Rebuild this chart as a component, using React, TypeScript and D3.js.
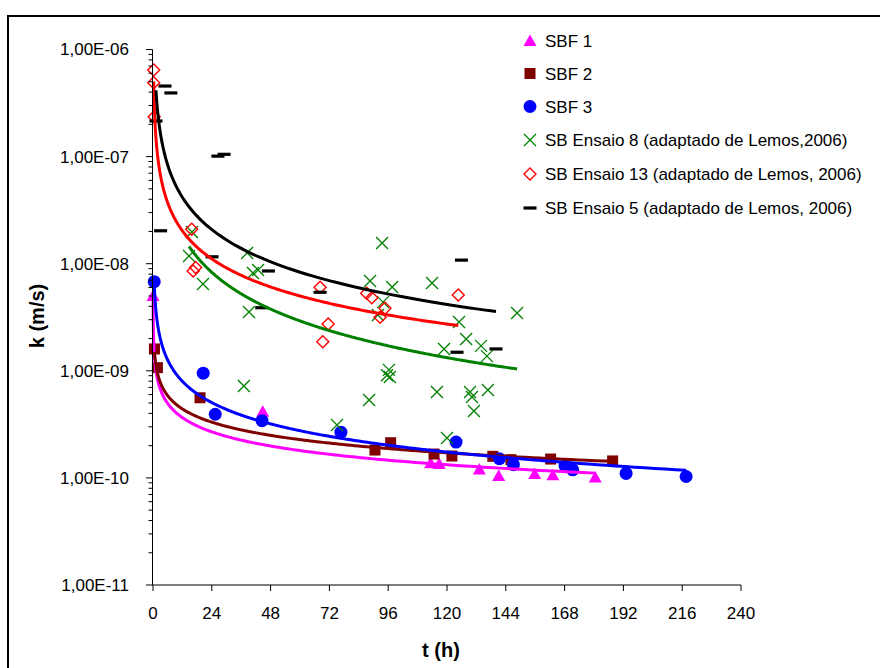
import React from "react";
import * as d3 from "d3";

// Hydraulic conductivity k (m/s) versus time t (h)
const sbf1T = [0.03, 44.8, 113.3, 116.8, 133.2, 141.1, 155.8, 163.2, 180.5];
const sbf1K = [5.0e-9, 4.15e-10, 1.37e-10, 1.35e-10, 1.2e-10, 1.04e-10, 1.09e-10, 1.06e-10, 1.01e-10];

const sbf2T = [0.6, 1.8, 19.2, 90.6, 97.0, 114.7, 122.0, 138.7, 146.1, 162.3, 187.6];
const sbf2K = [1.6e-9, 1.07e-9, 5.6e-10, 1.82e-10, 2.13e-10, 1.67e-10, 1.6e-10, 1.59e-10, 1.48e-10, 1.5e-10, 1.44e-10];

const sbf3T = [0.5, 20.5, 25.4, 44.5, 76.7, 123.7, 141.4, 147.1, 168.2, 171.3, 193.1, 217.6];
const sbf3K = [6.8e-9, 9.5e-10, 3.93e-10, 3.42e-10, 2.67e-10, 2.16e-10, 1.51e-10, 1.33e-10, 1.29e-10, 1.19e-10, 1.1e-10, 1.03e-10];

const ens8T = [15.9, 14.7, 20.4, 38.4, 40.8, 42.9, 39.2, 37.1, 75.1, 88.2, 88.6, 93.5, 97.6, 93.9, 91.8, 96.3, 95.5, 96.7, 113.9, 115.9, 118.8, 120.0, 124.9, 127.8, 129.4, 130.2, 131.0, 133.9, 136.3, 136.7, 148.6];
const ens8K = [1.98e-8, 1.18e-8, 6.46e-9, 1.26e-8, 8.2e-9, 8.73e-9, 3.54e-9, 7.2e-10, 3.12e-10, 5.33e-10, 6.9e-9, 1.56e-8, 6.05e-9, 4.38e-9, 3.32e-9, 1.02e-9, 9.1e-10, 8.75e-10, 6.6e-9, 6.34e-10, 1.6e-9, 2.36e-10, 2.86e-9, 1.98e-9, 6.34e-10, 5.69e-10, 4.21e-10, 1.71e-9, 1.37e-9, 6.62e-10, 3.47e-9];

const ens13T = [0.3, 0.3, 0.5, 15.8, 17.4, 16.4, 68.2, 71.5, 69.3, 87.2, 89.3, 94.7, 92.7, 124.6];
const ens13K = [6.44e-7, 4.9e-7, 2.36e-7, 2.1e-8, 9.2e-9, 8.55e-9, 6.02e-9, 2.73e-9, 1.87e-9, 5.3e-9, 4.82e-9, 3.84e-9, 3.16e-9, 5.1e-9];

const ens5T = [4.9, 7.3, 1.2, 26.5, 29.0, 3.1, 24.1, 47.1, 44.4, 68.2, 125.9, 124.1, 140.0];
const ens5K = [4.56e-7, 3.93e-7, 2.15e-7, 1.01e-7, 1.05e-7, 2.03e-8, 1.16e-8, 8.55e-9, 3.88e-9, 5.41e-9, 1.08e-8, 1.49e-9, 1.6e-9];

// Power-law trend lines k = a * t^b, one per series (same order as the legend)
const trendA = [1.09e-9, 1.22e-9, 4.11e-9, 3.11e-7, 1.76e-7, 5.0e-7];
const trendB = [-0.44, -0.41, -0.66, -1.14, -0.87, -1.0];

const seriesNames = [
  "SBF 1",
  "SBF 2",
  "SBF 3",
  "SB Ensaio 8 (adaptado de Lemos,2006)",
  "SB Ensaio 13 (adaptado de Lemos, 2006)",
  "SB Ensaio 5 (adaptado de Lemos, 2006)",
];
const seriesColors = ["#FF00FF", "#800000", "#0000FF", "#008000", "#FF0000", "#000000"];
const seriesShapes = ["triangle", "square", "circle", "cross", "diamond", "dash"];

const xTicks = [0, 24, 48, 72, 96, 120, 144, 168, 192, 216, 240];
const yTicks = [1e-11, 1e-10, 1e-9, 1e-8, 1e-7, 1e-6];
const yTickLabels = ["1,00E-11", "1,00E-10", "1,00E-09", "1,00E-08", "1,00E-07", "1,00E-06"];

const FONT = "'Liberation Sans', Arial, sans-serif";

function Marker({ shape, color, x, y }: { shape: string; color: string; x: number; y: number }) {
  switch (shape) {
    case "triangle":
      return <path d={`M${x},${y - 6.5}L${x + 6.5},${y + 5}L${x - 6.5},${y + 5}Z`} fill={color} />;
    case "square":
      return <rect x={x - 5.5} y={y - 5.5} width={11} height={11} fill={color} />;
    case "circle":
      return <circle cx={x} cy={y} r={6.5} fill={color} />;
    case "cross":
      return (
        <path
          d={`M${x - 6},${y - 6}L${x + 6},${y + 6}M${x - 6},${y + 6}L${x + 6},${y - 6}`}
          stroke={color}
          strokeWidth={1.3}
          fill="none"
        />
      );
    case "diamond":
      return (
        <path
          d={`M${x},${y - 6}L${x + 6},${y}L${x},${y + 6}L${x - 6},${y}Z`}
          stroke={color}
          strokeWidth={1.4}
          fill="none"
        />
      );
    case "dash":
      return <rect x={x - 6.5} y={y - 1.6} width={13} height={3.2} fill={color} />;
    default:
      return null;
  }
}

export default function App() {
  const width = 880;
  const height = 668;
  const x = d3.scaleLinear().domain([0, 240]).range([153, 741]);
  const y = d3.scaleLog().domain([1e-11, 1e-6]).range([585, 49.5]);

  const seriesT = [sbf1T, sbf2T, sbf3T, ens8T, ens13T, ens5T];
  const seriesK = [sbf1K, sbf2K, sbf3K, ens8K, ens13K, ens5K];

  const line = d3
    .line<[number, number]>()
    .x((d) => x(d[0]))
    .y((d) => y(d[1]));

  const trendPaths = seriesT.map((ts, i) => {
    const [t0, t1] = d3.extent(ts) as [number, number];
    const n = 300;
    const pts: [number, number][] = d3.range(n + 1).map((j) => {
      const t = Math.exp(Math.log(t0) + ((Math.log(t1) - Math.log(t0)) * j) / n);
      return [t, trendA[i] * Math.pow(t, trendB[i])];
    });
    return line(pts) as string;
  });

  // minor ticks on the log axis (2..9 of each decade)
  const minorTicks: number[] = [];
  for (let e = -11; e < -6; e++) {
    for (let m = 2; m <= 9; m++) minorTicks.push(m * Math.pow(10, e));
  }

  const legendX = 530;
  const legendY = [41, 73.5, 106.5, 140, 174, 208];

  return (
    <svg
      width={width}
      height={height}
      style={{ position: "absolute", left: 0, top: 0, background: "#fff" }}
      fontFamily={FONT}
    >
      <rect x={0} y={0} width={width} height={height} fill="#fff" />
      {/* outer chart frame */}
      <rect x={8} y={16} width={1000} height={1000} fill="none" stroke="#000" strokeWidth={2} />

      {/* markers */}
      {seriesT.map((ts, i) => (
        <g key={`s${i}`}>
          {ts.map((t, j) => (
            <Marker key={j} shape={seriesShapes[i]} color={seriesColors[i]} x={x(t)} y={y(seriesK[i][j])} />
          ))}
        </g>
      ))}

      {/* trend lines */}
      {trendPaths.map((d, i) => (
        <path key={`t${i}`} d={d} fill="none" stroke={seriesColors[i]} strokeWidth={3} strokeLinejoin="round" />
      ))}

      {/* y axis */}
      <line x1={152.5} x2={152.5} y1={49.5} y2={585} stroke="#000" strokeWidth={1} />
      {yTicks.map((v) => (
        <line key={`yt${v}`} x1={146} x2={152.5} y1={y(v)} y2={y(v)} stroke="#000" strokeWidth={1} />
      ))}
      {minorTicks.map((v) => (
        <line key={`ym${v}`} x1={148.5} x2={152.5} y1={y(v)} y2={y(v)} stroke="#000" strokeWidth={1} />
      ))}
      {yTicks.map((v, i) => (
        <text key={`yl${v}`} x={129} y={y(v)} dy="0.35em" textAnchor="end" fontSize={17} fill="#000">
          {yTickLabels[i]}
        </text>
      ))}

      {/* x axis */}
      <line x1={152.5} x2={741} y1={585} y2={585} stroke="#000" strokeWidth={1} />
      {xTicks.map((v) => (
        <line key={`xt${v}`} x1={x(v)} x2={x(v)} y1={585} y2={591} stroke="#000" strokeWidth={1} />
      ))}
      {xTicks.map((v) => (
        <text key={`xl${v}`} x={x(v)} y={619} textAnchor="middle" fontSize={17} fill="#000">
          {v}
        </text>
      ))}

      {/* axis titles */}
      <text x={441} y={657} textAnchor="middle" fontSize={20} fontWeight="bold" fill="#000">
        t (h)
      </text>
      <text
        transform="translate(44,316) rotate(-90)"
        textAnchor="middle"
        fontSize={20}
        fontWeight="bold"
        fill="#000"
      >
        k (m/s)
      </text>

      {/* legend */}
      {seriesNames.map((name, i) => (
        <g key={`lg${i}`}>
          <Marker shape={seriesShapes[i]} color={seriesColors[i]} x={legendX} y={legendY[i]} />
          <text x={545} y={legendY[i]} dy="0.36em" fontSize={17} fill="#000">
            {name}
          </text>
        </g>
      ))}
    </svg>
  );
}
